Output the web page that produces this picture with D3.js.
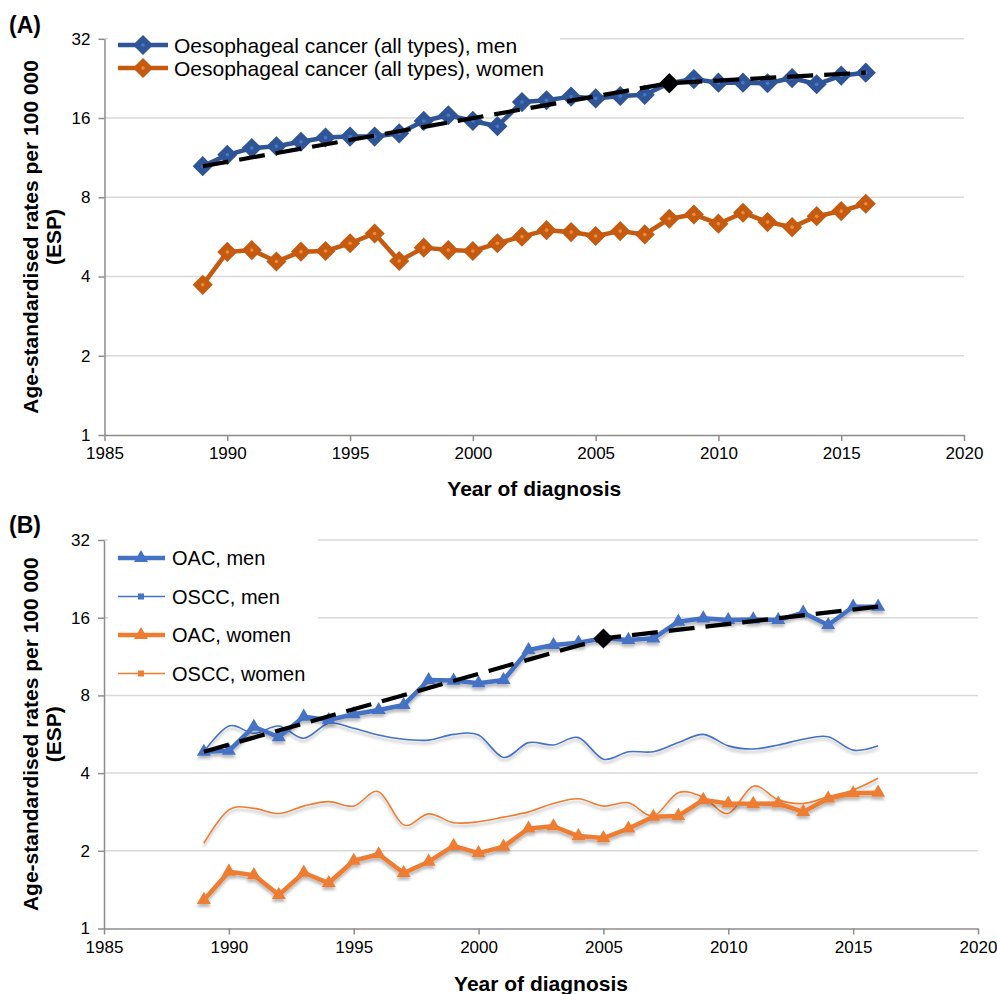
<!DOCTYPE html>
<html>
<head>
<meta charset="utf-8">
<script src="https://cdn.jsdelivr.net/npm/d3@7"></script>
<style>
  html, body { margin: 0; padding: 0; background: #fff; }
  svg { display: block; font-family: "Liberation Sans", Arial, sans-serif; }
</style>
</head>
<body>
<script>
// ---- data -------------------------------------------------------------
const years = [1989, 1990, 1991, 1992, 1993, 1994, 1995, 1996, 1997, 1998,
               1999, 2000, 2001, 2002, 2003, 2004, 2005, 2006, 2007, 2008,
               2009, 2010, 2011, 2012, 2013, 2014, 2015, 2016];

// Panel A: oesophageal cancer, all types
const allMen = [10.5, 11.6, 12.3, 12.5, 13.0, 13.5, 13.6, 13.6, 14.0, 15.6,
                16.4, 15.6, 14.9, 18.4, 18.7, 19.3, 19.0, 19.4, 19.6, 21.7,
                22.5, 21.8, 21.8, 21.7, 22.7, 21.5, 23.2, 23.8];
const allWomen = [3.72, 4.96, 5.04, 4.56, 4.97, 5.00, 5.35, 5.83, 4.58, 5.15,
                  5.04, 5.00, 5.35, 5.67, 6.00, 5.90, 5.70, 5.95, 5.78, 6.63,
                  6.88, 6.35, 6.99, 6.44, 6.16, 6.78, 7.09, 7.56];
const trendAYears = [1989, 2008, 2016];
const trendAValues = [10.5, 21.7, 23.8];
const jointA = { year: 2008, value: 21.7 };

// Panel B: by histological type
const oacMen = [4.84, 4.88, 6.05, 5.51, 6.62, 6.42, 6.76, 7.02, 7.34, 9.18,
                9.13, 8.91, 9.18, 11.99, 12.54, 12.8, 13.31, 13.12, 13.31, 15.44,
                15.91, 15.67, 15.76, 15.67, 16.73, 14.99, 17.65, 17.65];
const osccMen = [4.84, 6.09, 5.70, 6.09, 5.46, 6.24, 5.97, 5.62, 5.41, 5.37,
                 5.65, 5.62, 4.60, 5.25, 5.14, 5.49, 4.53, 4.84, 4.84, 5.25,
                 5.65, 5.10, 4.96, 5.14, 5.41, 5.53, 4.91, 5.10];
const oacWomen = [1.29, 1.66, 1.61, 1.35, 1.645, 1.50, 1.83, 1.94, 1.64, 1.815,
                  2.09, 1.96, 2.075, 2.44, 2.49, 2.28, 2.24, 2.44, 2.71, 2.73,
                  3.15, 3.05, 3.04, 3.05, 2.83, 3.19, 3.34, 3.36];
const osccWomen = [2.14, 2.88, 2.92, 2.79, 2.98, 3.10, 2.98, 3.39, 2.52, 2.78,
                   2.57, 2.59, 2.70, 2.83, 3.05, 3.18, 2.98, 3.07, 2.73, 3.36,
                   3.22, 2.79, 3.56, 3.15, 3.05, 3.24, 3.44, 3.82];
const trendBYears = [1989, 2005, 2016];
const trendBValues = [4.84, 13.3, 17.65];
const jointB = { year: 2005, value: 13.3 };

const yTicks = [1, 2, 4, 8, 16, 32];
const xTicks = [1985, 1990, 1995, 2000, 2005, 2010, 2015, 2020];

const yTitle1 = "Age-standardised rates per 100 000";
const yTitle2 = "(ESP)";
const xTitle = "Year of diagnosis";

// ---- drawing ----------------------------------------------------------
const svg = d3.select("body").append("svg")
  .attr("width", 997).attr("height", 994);

const defs = svg.append("defs");
const shadow = defs.append("filter").attr("id", "soft-shadow")
  .attr("x", "-5%").attr("y", "-30%").attr("width", "110%").attr("height", "160%");
shadow.append("feDropShadow")
  .attr("dx", 0).attr("dy", 3).attr("stdDeviation", 1.6)
  .attr("flood-color", "#000").attr("flood-opacity", 0.28);

const AXIS = "#8c8c8c", GRID = "#d9d9d9";

function drawFrame(g, x, y, label, labelY, titleY) {
  const [x0, x1] = x.range();
  const [yb, yt] = y.range();

  // horizontal gridlines
  g.append("g").selectAll("line")
    .data(yTicks.filter(v => v > 1))
    .join("line")
    .attr("x1", x0).attr("x2", x1)
    .attr("y1", d => y(d)).attr("y2", d => y(d))
    .attr("stroke", GRID).attr("stroke-width", 1.5);

  // axes
  const ya = g.append("g").attr("transform", `translate(${x0},0)`)
    .call(d3.axisLeft(y).tickValues(yTicks).tickFormat(d3.format("d"))
      .tickSize(6).tickPadding(8).tickSizeOuter(0));
  const xa = g.append("g").attr("transform", `translate(0,${yb})`)
    .call(d3.axisBottom(x).tickValues(xTicks).tickFormat(d3.format("d"))
      .tickSize(6).tickPadding(6).tickSizeOuter(0));
  [ya, xa].forEach(a => {
    a.select(".domain").attr("stroke", AXIS).attr("stroke-width", 1.5);
    a.selectAll(".tick line").attr("stroke", AXIS).attr("stroke-width", 1.5);
    a.selectAll(".tick text").attr("fill", "#000").attr("font-size", 17)
      .attr("font-family", "'Liberation Sans', Arial, sans-serif");
  });

  // titles
  const cy = (yb + yt) / 2;
  g.append("text").attr("transform", `translate(31,${cy}) rotate(-90)`)
    .attr("text-anchor", "middle").attr("dy", "0.35em")
    .attr("font-weight", "bold").attr("font-size", 21).text(yTitle1);
  g.append("text").attr("transform", `translate(54,${cy}) rotate(-90)`)
    .attr("text-anchor", "middle").attr("dy", "0.35em")
    .attr("font-weight", "bold").attr("font-size", 21).text(yTitle2);
  g.append("text").attr("x", (x0 + x1) / 2).attr("y", titleY)
    .attr("text-anchor", "middle")
    .attr("font-weight", "bold").attr("font-size", 21).text(xTitle);
  g.append("text").attr("x", 9).attr("y", labelY)
    .attr("font-weight", "bold").attr("font-size", 23).text(label);
}

const diamond = (area) => d3.symbol(d3.symbolSquare, area)();
const triangle = (area) => d3.symbol(d3.symbolTriangle, area)();
const square = (area) => d3.symbol(d3.symbolSquare, area)();

function drawTrend(g, x, y, ys, vs, joint) {
  const pts = ys.map((yr, i) => [yr, vs[i]]);
  g.append("path")
    .attr("d", d3.line().x(d => x(d[0])).y(d => y(d[1]))(pts))
    .attr("fill", "none").attr("stroke", "#000").attr("stroke-width", 4.2)
    .attr("stroke-dasharray", "26,11");
  g.append("path").attr("d", diamond(200))
    .attr("transform", `translate(${x(joint.year)},${y(joint.value)}) rotate(45)`)
    .attr("fill", "#000");
}

// ---------- Panel A ----------
{
  const g = svg.append("g");
  const x = d3.scaleLinear().domain([1985, 2020]).range([104.5, 964]);
  const y = d3.scaleLog().base(2).domain([1, 32]).range([435, 38.8]);
  drawFrame(g, x, y, "(A)", 33, 496);

  const seriesA = [
    { name: "Oesophageal cancer (all types), men", values: allMen, dark: "#2f5597", light: "#4a78c8" },
    { name: "Oesophageal cancer (all types), women", values: allWomen, dark: "#c55a11", light: "#f08a3c" }
  ];
  const line = d3.line().x((d, i) => x(years[i])).y(d => y(d));

  seriesA.forEach(s => {
    g.append("path").attr("d", line(s.values))
      .attr("fill", "none").attr("stroke", s.dark).attr("stroke-width", 4.5)
      .attr("stroke-linejoin", "round");
  });
  seriesA.forEach(s => {
    const m = g.append("g").selectAll("g").data(s.values).join("g")
      .attr("transform", (d, i) => `translate(${x(years[i])},${y(d)})`);
    m.append("path").attr("d", diamond(150)).attr("transform", "rotate(45)")
      .attr("fill", s.dark).attr("stroke", s.dark).attr("stroke-width", 2);
    m.append("circle").attr("r", 1.8).attr("fill", s.light);
  });

  drawTrend(g, x, y, trendAYears, trendAValues, jointA);

  // legend
  const lg = g.append("g");
  lg.append("rect").attr("x", 108).attr("y", 30).attr("width", 452).attr("height", 52)
    .attr("fill", "#fff");
  seriesA.forEach((s, i) => {
    const ly = 45 + i * 23;
    lg.append("line").attr("x1", 118).attr("x2", 168).attr("y1", ly).attr("y2", ly)
      .attr("stroke", s.dark).attr("stroke-width", 4.5);
    lg.append("path").attr("d", diamond(150))
      .attr("transform", `translate(143,${ly}) rotate(45)`)
      .attr("fill", s.dark).attr("stroke", s.dark).attr("stroke-width", 2);
    lg.append("circle").attr("cx", 143).attr("cy", ly).attr("r", 1.8).attr("fill", s.light);
    lg.append("text").attr("x", 174).attr("y", ly).attr("dy", "0.36em")
      .attr("font-size", 21).text(s.name);
  });
}

// ---------- Panel B ----------
{
  const g = svg.append("g");
  const x = d3.scaleLinear().domain([1985, 2020]).range([104, 978]);
  const y = d3.scaleLog().base(2).domain([1, 32]).range([928.5, 540]);
  drawFrame(g, x, y, "(B)", 533, 991);

  const seriesB = [
    { name: "OAC, men", values: oacMen, color: "#4472c4", thick: true },
    { name: "OSCC, men", values: osccMen, color: "#4472c4", thick: false },
    { name: "OAC, women", values: oacWomen, color: "#ed7d31", thick: true },
    { name: "OSCC, women", values: osccWomen, color: "#ed7d31", thick: false }
  ];
  const straight = d3.line().x((d, i) => x(years[i])).y(d => y(d));
  const smooth = d3.line().x((d, i) => x(years[i])).y(d => y(d))
    .curve(d3.curveCardinal.tension(0));

  // thin smoothed series first, thick series with markers on top
  [seriesB[3], seriesB[1], seriesB[2], seriesB[0]].forEach(s => {
    const sg = g.append("g").attr("filter", "url(#soft-shadow)");
    if (s.thick) {
      sg.append("path").attr("d", straight(s.values))
        .attr("fill", "none").attr("stroke", s.color).attr("stroke-width", 4.5)
        .attr("stroke-linejoin", "round");
      sg.selectAll("path.mk").data(s.values).join("path").attr("class", "mk")
        .attr("d", triangle(85))
        .attr("transform", (d, i) => `translate(${x(years[i])},${y(d)})`)
        .attr("fill", s.color);
    } else {
      sg.append("path").attr("d", smooth(s.values))
        .attr("fill", "none").attr("stroke", s.color).attr("stroke-width", 1.6);
    }
  });

  drawTrend(g, x, y, trendBYears, trendBValues, jointB);

  // legend
  const lg = g.append("g");
  lg.append("rect").attr("x", 108).attr("y", 536).attr("width", 210).attr("height", 154)
    .attr("fill", "#fff");
  seriesB.forEach((s, i) => {
    const ly = 558 + i * 38.5;
    lg.append("line").attr("x1", 118).attr("x2", 165).attr("y1", ly).attr("y2", ly)
      .attr("stroke", s.color).attr("stroke-width", s.thick ? 4.5 : 1.6);
    lg.append("path").attr("d", s.thick ? triangle(85) : square(36))
      .attr("transform", `translate(141,${ly})`).attr("fill", s.color);
    lg.append("text").attr("x", 172).attr("y", ly).attr("dy", "0.36em")
      .attr("font-size", 20).text(s.name);
  });
}
</script>
</body>
</html>
